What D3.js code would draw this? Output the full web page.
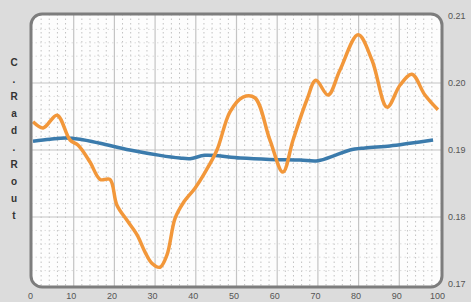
<!DOCTYPE html>
<html>
<head>
<meta charset="utf-8">
<script src="https://cdn.jsdelivr.net/npm/d3@7"></script>
<style>
  html, body { margin: 0; padding: 0; background: #dcdcdc; }
  svg { display: block; }
  text { font-family: "Liberation Sans", Arial, sans-serif; }
</style>
</head>
<body>
<script>
// data
var orangeX = [0, 2.5, 5.9, 9.1, 11.1, 14, 16.5, 18.9, 20.6, 23.1, 25.6, 27.5, 29.2, 31.2, 32.9,
  34.9, 36.9, 39.8, 42.3, 45.2, 48.4, 51.6, 54.5, 58.2, 61.4, 63.9, 67.3, 69.5, 72.5, 75.4,
  79.9, 83.3, 87, 90.2, 93.1, 96.3, 99.5];
var orangeY = [0.1942, 0.1933, 0.1952, 0.1915, 0.1907, 0.1882, 0.1856, 0.1856, 0.1818, 0.1795,
  0.1773, 0.1748, 0.1731, 0.1725, 0.1743, 0.1798, 0.1821, 0.1843, 0.1867, 0.19, 0.1957,
  0.1979, 0.1978, 0.1915, 0.1867, 0.1915, 0.1975, 0.2004, 0.1982, 0.2019, 0.2072, 0.2034,
  0.1964, 0.1997, 0.2013, 0.1982, 0.196];
var blueX = [0, 4.2, 7.9, 11.5, 16.5, 23.8, 31.2, 36.1, 38.6, 42.3, 50.9, 58.2, 65.6, 70,
  74.2, 77.9, 81.6, 87.7, 92.6, 98.3];
var blueY = [0.1913, 0.1916, 0.1918, 0.1916, 0.191, 0.19, 0.1892, 0.1888, 0.1887, 0.1892,
  0.1888, 0.1886, 0.1885, 0.1884, 0.1892, 0.19, 0.1903, 0.1906, 0.191, 0.1915];
var xTicks = [0, 10, 20, 30, 40, 50, 60, 70, 80, 90, 100];
var yTicks = [0.17, 0.18, 0.19, 0.20, 0.21];
var yTitle = ["C", ".", "R", "a", "d", ".", "R", "o", "u", "t"];

var W = 471, H = 302;
var svg = d3.select("body").append("svg").attr("width", W).attr("height", H);

var box = { x0: 31, y0: 14, x1: 442, y1: 287 };
var x = d3.scaleLinear().domain([0, 100]).range([33, 440]);
var y = d3.scaleLinear().domain([0.17, 0.21]).range([284, 16]);

// plot background
svg.append("rect")
  .attr("x", box.x0).attr("y", box.y0)
  .attr("width", box.x1 - box.x0).attr("height", box.y1 - box.y0)
  .attr("rx", 11)
  .attr("fill", "#fdfdfd");

svg.append("clipPath").attr("id", "clip")
  .append("rect")
  .attr("x", box.x0).attr("y", box.y0)
  .attr("width", box.x1 - box.x0).attr("height", box.y1 - box.y0)
  .attr("rx", 11);

var g = svg.append("g").attr("clip-path", "url(#clip)");

// minor dotted grid
g.selectAll("line.vminor").data(d3.range(0, 101, 2).filter(function(d) { return d % 10; }))
  .join("line")
  .attr("x1", function(d) { return x(d); }).attr("x2", function(d) { return x(d); })
  .attr("y1", box.y0).attr("y2", box.y1)
  .attr("stroke", "#c2c2c2").attr("stroke-width", 1)
  .attr("stroke-dasharray", "1.5,3");
g.selectAll("line.hminor").data(d3.range(0, 21).map(function(i) { return 0.17 + i * 0.002; })
    .filter(function(d, i) { return i % 5; }))
  .join("line")
  .attr("x1", box.x0).attr("x2", box.x1)
  .attr("y1", function(d) { return y(d); }).attr("y2", function(d) { return y(d); })
  .attr("stroke", "#dcdcdc").attr("stroke-width", 1)
  .attr("stroke-dasharray", "1.5,3");

// major grid
g.selectAll("line.vmajor").data(xTicks.slice(1, -1))
  .join("line")
  .attr("x1", function(d) { return x(d); }).attr("x2", function(d) { return x(d); })
  .attr("y1", box.y0).attr("y2", box.y1)
  .attr("stroke", "#c4c4c4").attr("stroke-width", 1.2);
g.selectAll("line.hmajor").data(yTicks.slice(1, -1))
  .join("line")
  .attr("x1", box.x0).attr("x2", box.x1)
  .attr("y1", function(d) { return y(d); }).attr("y2", function(d) { return y(d); })
  .attr("stroke", "#c4c4c4").attr("stroke-width", 1.2);

// series
var line = d3.line()
  .x(function(d) { return x(d[0]); })
  .y(function(d) { return y(d[1]); })
  .curve(d3.curveCatmullRom.alpha(0.5));

g.append("path")
  .datum(d3.zip(blueX, blueY))
  .attr("d", line)
  .attr("fill", "none")
  .attr("stroke", "#3b7bac")
  .attr("stroke-width", 3.5);

g.append("path")
  .datum(d3.zip(orangeX, orangeY))
  .attr("d", line)
  .attr("fill", "none")
  .attr("stroke", "#f2973a")
  .attr("stroke-width", 3.5);

// border
svg.append("rect")
  .attr("x", box.x0).attr("y", box.y0)
  .attr("width", box.x1 - box.x0).attr("height", box.y1 - box.y0)
  .attr("rx", 11)
  .attr("fill", "none")
  .attr("stroke", "#7d7d7d")
  .attr("stroke-width", 3);

// axes
var xAxis = d3.axisBottom(x).tickValues(xTicks).tickSize(0).tickPadding(0);
svg.append("g")
  .attr("transform", "translate(-3," + (box.y1 + 6) + ")")
  .call(xAxis)
  .call(function(s) { s.select(".domain").remove(); })
  .selectAll("text")
  .attr("font-size", 9).attr("fill", "#555").attr("dy", "0.71em");

var yAxis = d3.axisRight(y).tickValues(yTicks).tickFormat(d3.format(".2f")).tickSize(0).tickPadding(0);
svg.append("g")
  .attr("transform", "translate(" + (box.x1 + 6) + ",0)")
  .call(yAxis)
  .call(function(s) { s.select(".domain").remove(); })
  .selectAll("text")
  .attr("font-size", 9).attr("fill", "#555");

// vertical stacked title
svg.append("g").selectAll("text").data(yTitle)
  .join("text")
  .attr("x", 14)
  .attr("y", function(d, i) { return 62 + i * 17 + 4; })
  .attr("text-anchor", "middle")
  .attr("font-size", 10)
  .attr("font-weight", "bold")
  .attr("fill", "#333")
  .text(function(d) { return d; });
</script>
</body>
</html>
